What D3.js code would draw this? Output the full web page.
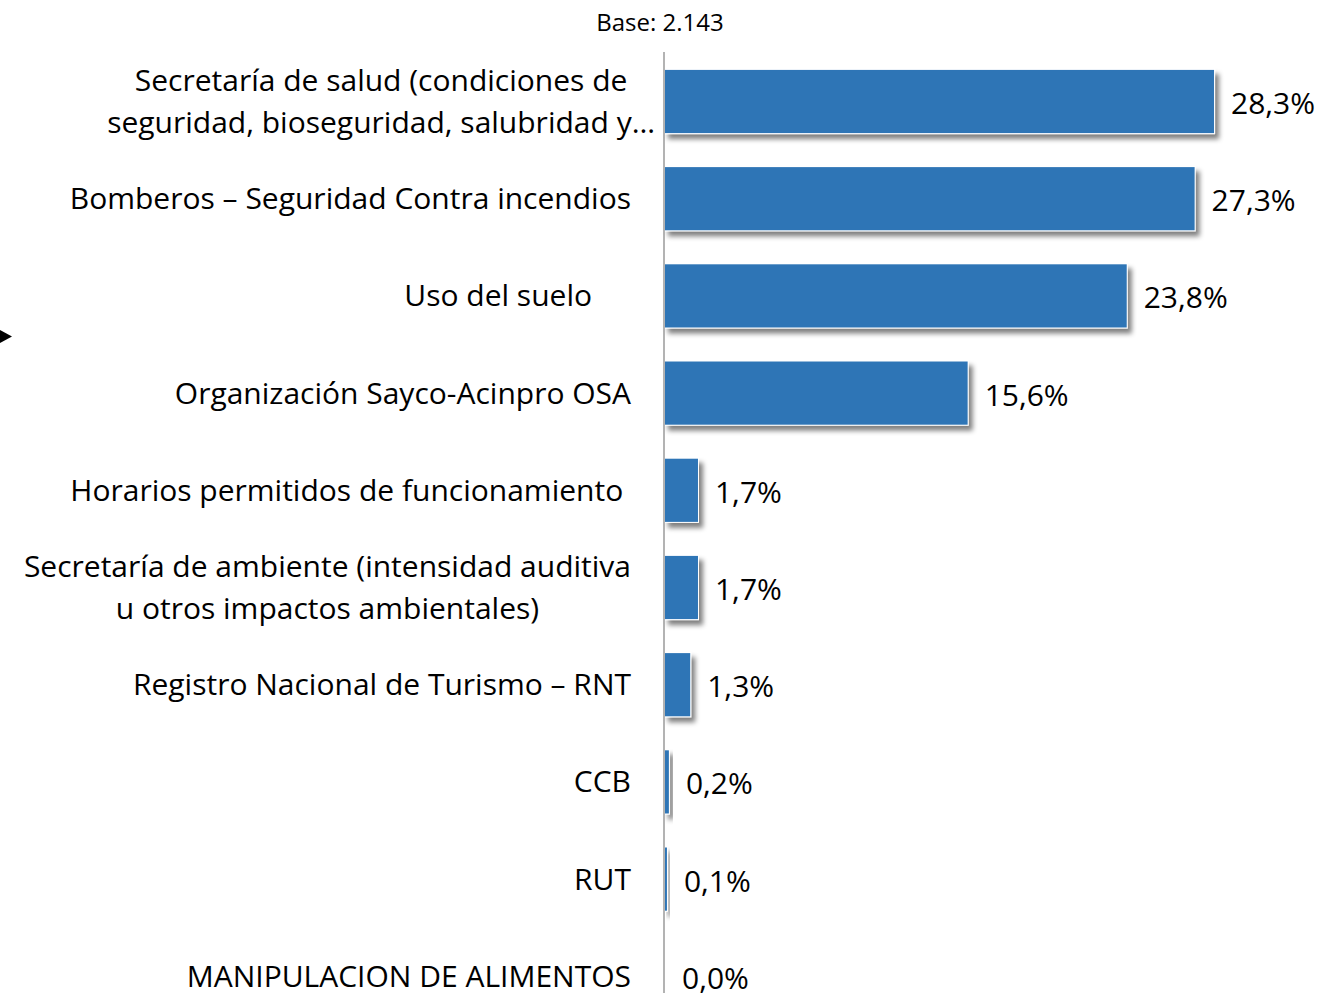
<!DOCTYPE html>
<html>
<head>
<meta charset="utf-8">
<script src="https://cdn.jsdelivr.net/npm/d3@7"></script>
<style>
  html, body { margin: 0; padding: 0; background: #fff; }
  svg { display: block; }
  text { font-family: "Open Sans", Lato, sans-serif; fill: #000; white-space: pre; }
</style>
</head>
<body>
<svg id="chart" width="1322" height="993"></svg>
<script>
// Categories (each entry is the list of text lines drawn for the row)
const categories = [
  ["Secretaría de salud (condiciones de", "seguridad, bioseguridad, salubridad y…"],
  ["Bomberos – Seguridad Contra incendios"],
  ["Uso del suelo     "],
  ["Organización Sayco-Acinpro OSA"],
  ["Horarios permitidos de funcionamiento "],
  ["Secretaría de ambiente (intensidad auditiva", "u otros impactos ambientales)"],
  ["Registro Nacional de Turismo – RNT"],
  ["CCB"],
  ["RUT"],
  ["MANIPULACION DE ALIMENTOS"]
];
// Share of respondents, in percent
const values = [28.3, 27.3, 23.8, 15.6, 1.7, 1.7, 1.3, 0.2, 0.1, 0.0];
const valueLabels = ["28,3%", "27,3%", "23,8%", "15,6%", "1,7%", "1,7%", "1,3%", "0,2%", "0,1%", "0,0%"];
const baseLabel = "Base: 2.143";

const svg = d3.select("#chart");
const W = 1322, H = 993;

const x0 = 665;
const x = d3.scaleLinear().domain([0, 30]).range([x0, x0 + 582]);
const y = d3.scaleBand()
  .domain(d3.range(values.length))
  .range([52.9, 52.9 + 97.2 * values.length])
  .paddingInner(0.35)
  .paddingOuter(0.175);

// Drop shadow for bars
const defs = svg.append("defs");
const f = defs.append("filter").attr("id", "shadow")
  .attr("x", "-50%").attr("y", "-50%").attr("width", "200%").attr("height", "200%");
f.append("feGaussianBlur").attr("in", "SourceAlpha").attr("stdDeviation", 2.6).attr("result", "blur");
f.append("feOffset").attr("in", "blur").attr("dx", 4).attr("dy", 5).attr("result", "off");
f.append("feComponentTransfer").attr("in", "off").attr("result", "shade")
  .append("feFuncA").attr("type", "linear").attr("slope", 0.5);
const m = f.append("feMerge");
m.append("feMergeNode").attr("in", "shade");
m.append("feMergeNode").attr("in", "SourceGraphic");

// Title
svg.append("text")
  .attr("x", 660).attr("y", 21)
  .attr("text-anchor", "middle")
  .attr("dominant-baseline", "central")
  .style("font-size", "24px")
  .text(baseLabel);

// Small pointer marker at the left edge
svg.append("path")
  .attr("d", "M0,330 L12,336.5 L0,343 Z")
  .attr("fill", "#000");

// Bars: white outline casting the shadow, blue fill on top
const rows = svg.append("g").selectAll("g.row")
  .data(values)
  .join("g").attr("class", "row");

rows.append("rect")
  .attr("x", x(0) - 1)
  .attr("y", (d, i) => y(i) - 1)
  .attr("width", d => x(d) - x(0) + 2)
  .attr("height", y.bandwidth() + 2)
  .attr("fill", "#fff")
  .attr("filter", "url(#shadow)");

rows.append("rect")
  .attr("x", x(0))
  .attr("y", (d, i) => y(i))
  .attr("width", d => x(d) - x(0))
  .attr("height", y.bandwidth())
  .attr("fill", "#2E75B6");

// Value labels
rows.append("text")
  .attr("x", d => x(d) + 17)
  .attr("y", (d, i) => y(i) + y.bandwidth() / 2 + 1)
  .attr("dominant-baseline", "central")
  .style("font-size", "30px")
  .text((d, i) => valueLabels[i]);

// Vertical axis line
svg.append("line")
  .attr("x1", 664).attr("x2", 664)
  .attr("y1", 52).attr("y2", H)
  .attr("stroke", "#9a9a9a").attr("stroke-width", 1.5);

// Category labels; a truncated label (ending in "…") runs up to the axis
const labelRight = 631;
const overflowRight = 655;
const lineH = 42;
categories.forEach((lines, i) => {
  const cy = y(i) + y.bandwidth() / 2 - 1;
  const g = svg.append("g");
  const ts = lines.map((ln, k) => g.append("text")
    .attr("y", cy + (k - (lines.length - 1) / 2) * lineH)
    .attr("dominant-baseline", "central")
    .style("font-size", "30px")
    .text(ln));
  if (lines.length === 1) {
    ts[0].attr("x", labelRight).attr("text-anchor", "end");
  } else {
    const truncated = lines[lines.length - 1].endsWith("…");
    const right = truncated ? overflowRight : labelRight;
    const maxW = d3.max(ts, t => t.node().getComputedTextLength());
    const cx = right - maxW / 2;
    ts.forEach(t => t.attr("x", cx).attr("text-anchor", "middle"));
  }
});
</script>
</body>
</html>
